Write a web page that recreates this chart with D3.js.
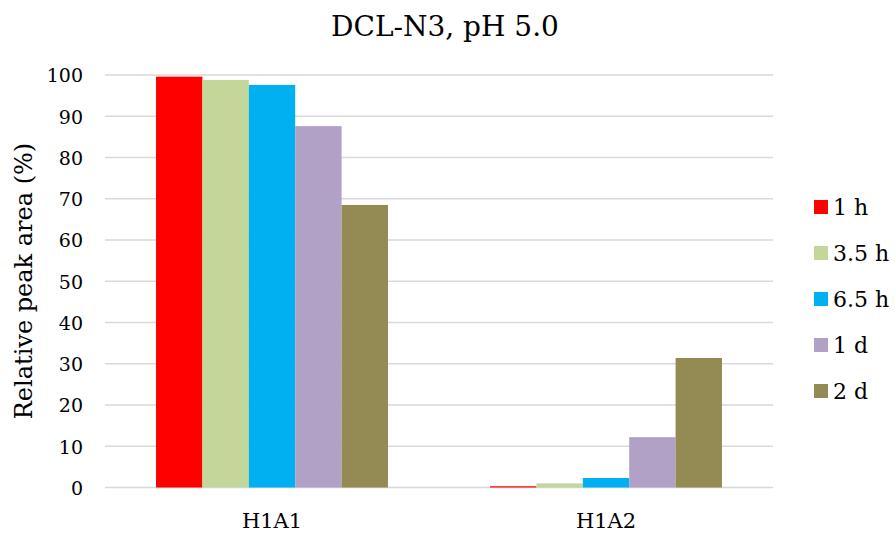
<!DOCTYPE html>
<html>
<head>
<meta charset="utf-8">
<script src="https://cdn.jsdelivr.net/npm/d3@7"></script>
<style>
  html, body { margin: 0; padding: 0; background: #fff; }
  svg text { font-family: "DejaVu Serif", Georgia, serif; fill: #000; }
</style>
</head>
<body>
<svg id="chart" width="895" height="533"></svg>
<script>
// Relative peak area of each library member over time
const categories = ["H1A1", "H1A2"];
const seriesNames = ["1 h", "3.5 h", "6.5 h", "1 d", "2 d"];
const seriesColors = ["#ff0000", "#c4d79b", "#00b0f0", "#b2a1c7", "#948a54"];
const values1h  = [99.6, 0.3];
const values35h = [98.8, 1.0];
const values65h = [97.6, 2.3];
const values1d  = [87.6, 12.2];
const values2d  = [68.5, 31.4];
const seriesValues = [values1h, values35h, values65h, values1d, values2d];
const yTicks = [0, 10, 20, 30, 40, 50, 60, 70, 80, 90, 100];

const svg = d3.select("#chart");
const plot = { left: 105, right: 773, top: 75, bottom: 487.5 };

const x0 = d3.scaleBand().domain(categories).range([plot.left, plot.right]).paddingInner(0).paddingOuter(0);
const x1 = d3.scaleBand().domain(seriesNames).range([0, x0.bandwidth()]).paddingInner(0).paddingOuter(1.1);
const y = d3.scaleLinear().domain([0, 100]).range([plot.bottom, plot.top]);

// Horizontal gridlines
svg.append("g")
  .selectAll("line")
  .data(yTicks)
  .join("line")
  .attr("x1", plot.left).attr("x2", plot.right)
  .attr("y1", d => y(d)).attr("y2", d => y(d))
  .attr("stroke", "#d9d9d9").attr("stroke-width", 1.5);

// Y tick labels
const yAxis = d3.axisLeft(y).tickValues(yTicks).tickSize(0).tickPadding(0);
const gy = svg.append("g").attr("transform", `translate(${plot.left - 22},0)`).call(yAxis);
gy.attr("font-size", null).attr("font-family", null);
gy.select(".domain").remove();
gy.selectAll("text").attr("font-size", 19).attr("fill", "#000").attr("dy", "0.36em");

// Bars
const groups = svg.append("g")
  .selectAll("g")
  .data(seriesNames.map((name, i) => ({ name, color: seriesColors[i], values: seriesValues[i] })))
  .join("g")
  .attr("fill", d => d.color);

groups.selectAll("rect")
  .data(d => d.values.map((v, j) => ({ name: d.name, cat: categories[j], v })))
  .join("rect")
  .attr("x", d => x0(d.cat) + x1(d.name))
  .attr("width", x1.bandwidth())
  .attr("y", d => y(d.v))
  .attr("height", d => y(0) - y(d.v));

// X category labels
const xAxis = d3.axisBottom(x0).tickSize(0).tickPadding(0);
const gx = svg.append("g").attr("transform", "translate(0,528)").call(xAxis);
gx.attr("font-size", null).attr("font-family", null);
gx.select(".domain").remove();
gx.selectAll("text").attr("font-size", 21).attr("fill", "#000").attr("dy", "0");

// Title
svg.append("text")
  .attr("x", 445).attr("y", 36)
  .attr("text-anchor", "middle")
  .attr("font-size", 28)
  .text("DCL-N3, pH 5.0");

// Y axis title
svg.append("text")
  .attr("transform", "translate(32,281) rotate(-90)")
  .attr("text-anchor", "middle")
  .attr("font-size", 24)
  .text("Relative peak area (%)");

// Legend
const legend = svg.append("g").attr("transform", "translate(814,207)");
const items = legend.selectAll("g")
  .data(seriesNames)
  .join("g")
  .attr("transform", (d, i) => `translate(0,${i * 46})`);
items.append("rect")
  .attr("x", 0).attr("y", -7).attr("width", 14).attr("height", 14)
  .attr("fill", (d, i) => seriesColors[i]);
items.append("text")
  .attr("x", 19).attr("y", 0).attr("dy", "0.36em")
  .attr("font-size", 22)
  .text(d => d);
</script>
</body>
</html>
